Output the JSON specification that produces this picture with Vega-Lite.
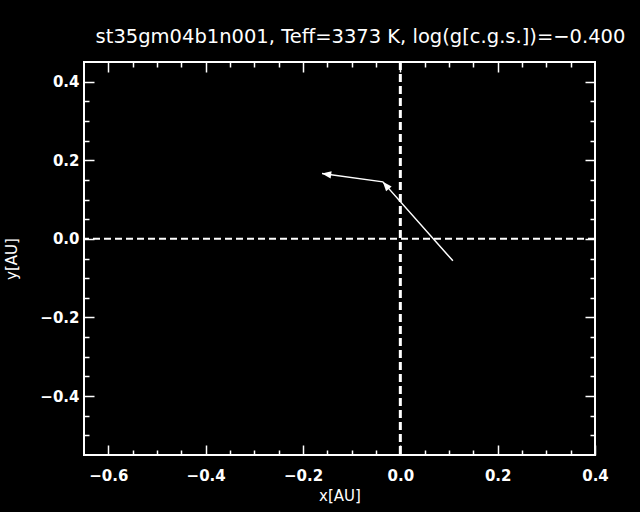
{
  "$schema": "https://vega.github.io/schema/vega-lite/v6.json",
  "width": 511,
  "height": 393,
  "autosize": {"type": "none"},
  "padding": {"left": 84, "top": 62, "right": 45, "bottom": 57},
  "background": "black",
  "title": {
    "text": "st35gm04b1n001, Teff=3373 K, log(g[c.g.s.])=−0.400",
    "color": "white",
    "font": "DejaVu Sans",
    "fontSize": 19.5,
    "fontWeight": "normal",
    "offset": 13,
    "dx": 21
  },
  "config": {
    "view": {"stroke": "white", "strokeWidth": 2},
    "axis": {
      "domain": false,
      "grid": false,
      "tickColor": "white",
      "tickWidth": 1.5,
      "labelColor": "white",
      "labelFont": "DejaVu Sans",
      "labelFontSize": 15,
      "labelFontWeight": "bold",
      "labelOverlap": false,
      "labelFlush": false,
      "titleColor": "white",
      "titleFont": "DejaVu Sans",
      "titleFontSize": 15,
      "titleFontWeight": "normal"
    }
  },
  "data": {
    "values": [
      {"x": 0.108, "y": -0.056, "i": 0},
      {"x": -0.036, "y": 0.145, "i": 1},
      {"x": -0.161, "y": 0.166, "i": 2}
    ]
  },
  "layer": [
    {
      "mark": {"type": "line", "color": "white", "strokeWidth": 1.5},
      "encoding": {
        "x": {
          "field": "x",
          "type": "quantitative",
          "scale": {"domain": [-0.65, 0.4], "nice": false, "zero": false},
          "axis": {
            "orient": "bottom",
            "title": "x[AU]",
            "values": [-0.6, -0.55, -0.5, -0.45, -0.4, -0.35, -0.3, -0.25, -0.2, -0.15, -0.1, -0.05, 0, 0.05, 0.1, 0.15, 0.2, 0.25, 0.3, 0.35, 0.4],
            "labelExpr": "abs(round(datum.value*20)) % 4 == 0 ? format(datum.value, '.1f') : ''",
            "tickSize": {"condition": {"test": "abs(round(datum.value*20)) % 4 == 0", "value": -10}, "value": -5},
            "labelPadding": 23,
            "titlePadding": 0
          }
        },
        "y": {
          "field": "y",
          "type": "quantitative",
          "scale": {"domain": [-0.55, 0.45], "nice": false, "zero": false},
          "axis": {
            "orient": "left",
            "title": "y[AU]",
            "values": [-0.5, -0.45, -0.4, -0.35, -0.3, -0.25, -0.2, -0.15, -0.1, -0.05, 0, 0.05, 0.1, 0.15, 0.2, 0.25, 0.3, 0.35, 0.4],
            "labelExpr": "abs(round(datum.value*20)) % 4 == 0 ? format(datum.value, '.1f') : ''",
            "tickSize": {"condition": {"test": "abs(round(datum.value*20)) % 4 == 0", "value": -10}, "value": -5},
            "labelPadding": 15,
            "titlePadding": 20
          }
        },
        "order": {"field": "i"}
      }
    },
    {
      "data": {"values": [{}]},
      "mark": {"type": "rule", "color": "white", "strokeWidth": 1.5},
      "encoding": {
        "x": {
          "datum": 0,
          "type": "quantitative",
          "axis": {
            "orient": "top",
            "title": null,
            "labels": false,
            "values": [-0.6, -0.55, -0.5, -0.45, -0.4, -0.35, -0.3, -0.25, -0.2, -0.15, -0.1, -0.05, 0, 0.05, 0.1, 0.15, 0.2, 0.25, 0.3, 0.35],
            "tickSize": {"condition": {"test": "abs(round(datum.value*20)) % 4 == 0", "value": -10}, "value": -5}
          }
        },
        "y": {
          "datum": 0,
          "type": "quantitative",
          "axis": {
            "orient": "right",
            "title": null,
            "labels": false,
            "values": [-0.5, -0.45, -0.4, -0.35, -0.3, -0.25, -0.2, -0.15, -0.1, -0.05, 0, 0.05, 0.1, 0.15, 0.2, 0.25, 0.3, 0.35, 0.4],
            "tickSize": {"condition": {"test": "abs(round(datum.value*20)) % 4 == 0", "value": -10}, "value": -5}
          }
        },
        "opacity": {"value": 0}
      }
    },
    {
      "data": {"values": [{}]},
      "mark": {"type": "rule", "color": "white", "strokeWidth": 3, "strokeDash": [8, 4]},
      "encoding": {
        "x": {"datum": 0, "type": "quantitative", "axis": null}
      }
    },
    {
      "data": {"values": [{}]},
      "mark": {"type": "rule", "color": "white", "strokeWidth": 2, "strokeDash": [7, 4]},
      "encoding": {
        "y": {"datum": 0, "type": "quantitative", "axis": null}
      }
    },
    {
      "transform": [{"filter": "datum.i == 1"}],
      "mark": {"type": "point", "shape": "M0,0L-0.4,1L0.4,1Z", "filled": true, "color": "white", "opacity": 1, "size": 340, "angle": 319},
      "encoding": {
        "x": {"field": "x", "type": "quantitative", "axis": null},
        "y": {"field": "y", "type": "quantitative", "axis": null}
      }
    },
    {
      "transform": [{"filter": "datum.i == 2"}],
      "mark": {"type": "point", "shape": "M0,0L-0.4,1L0.4,1Z", "filled": true, "color": "white", "opacity": 1, "size": 340, "angle": 278},
      "encoding": {
        "x": {"field": "x", "type": "quantitative", "axis": null},
        "y": {"field": "y", "type": "quantitative", "axis": null}
      }
    }
  ],
  "resolve": {"axis": {"x": "independent", "y": "independent"}}
}
